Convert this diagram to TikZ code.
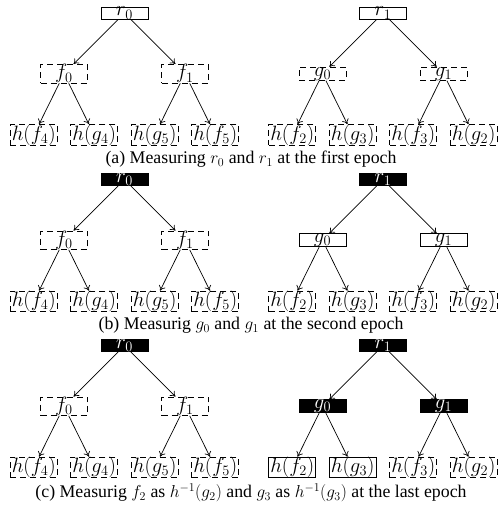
\documentclass[tikz,border=0pt]{standalone}
\usepackage{fontspec}
\setmainfont{Liberation Serif}
\usetikzlibrary{arrows.meta}

\tikzset{
  tbox/.style={draw, inner sep=0pt, minimum width=47pt, line width=0.8pt,
    font=\fontsize{21.5}{24}\selectfont},
  openbox/.style={tbox},
  dashbox/.style={tbox, dash pattern=on 6pt off 4pt},
  blackbox/.style={tbox, fill=black, text=white},
  conn/.style={line width=0.7pt, -{To[length=5pt,width=7pt]}},
  captext/.style={font=\fontsize{17.8}{19}\selectfont, inner sep=0pt}
}

% one binary tree: root, two inner nodes, four leaves
% #1 prefix, #2/#3 root position, #4 root label, #5 root style,
% #6 inner style, #7 inner letter, #8 leaf nodes
\newcommand\btree[8]{%
  \begin{scope}[shift={(#2,#3)}]
    \node[#5] (#1r) at (0,0) {$#4$};
    \node[#6] (#1a) at (-60.5,60.75) {$#7_0$};
    \node[#6] (#1b) at (60.5,60.75) {$#7_1$};
    #8
    \foreach \p/\c in {r/a,r/b,a/1,a/2,b/3,b/4}
      \draw[conn] (#1\p) -- (#1\c);
  \end{scope}}

\begin{document}
\begin{tikzpicture}[x=1pt,y=-1pt]
\useasboundingbox (0,0) rectangle (500,510);

% ---------- (a) first epoch ----------
\btree{A}{124.5}{13}{r_0}{openbox}{dashbox}{f}{%
  \node[dashbox] (A1) at (-90.75,122) {$h(f_4)$};
  \node[dashbox] (A2) at (-30.25,122) {$h(g_4)$};
  \node[dashbox] (A3) at (30.25,122) {$h(g_5)$};
  \node[dashbox] (A4) at (90.75,122) {$h(f_5)$};}
\btree{B}{383}{13}{r_1}{openbox}{dashbox}{g}{%
  \node[dashbox] (B1) at (-90.75,122) {$h(f_2)$};
  \node[dashbox] (B2) at (-30.25,122) {$h(g_3)$};
  \node[dashbox] (B3) at (30.25,122) {$h(f_3)$};
  \node[dashbox] (B4) at (90.75,122) {$h(g_2)$};}
\node[captext] (capa) at (251,159.5) {(a) Measuring $r_0$ and $r_1$ at the first epoch};

% ---------- (b) second epoch ----------
\btree{C}{124.5}{179.5}{r_0}{blackbox}{dashbox}{f}{%
  \node[dashbox] (C1) at (-90.75,122) {$h(f_4)$};
  \node[dashbox] (C2) at (-30.25,122) {$h(g_4)$};
  \node[dashbox] (C3) at (30.25,122) {$h(g_5)$};
  \node[dashbox] (C4) at (90.75,122) {$h(f_5)$};}
\btree{D}{383}{179.5}{r_1}{blackbox}{openbox}{g}{%
  \node[dashbox] (D1) at (-90.75,122) {$h(f_2)$};
  \node[dashbox] (D2) at (-30.25,122) {$h(g_3)$};
  \node[dashbox] (D3) at (30.25,122) {$h(f_3)$};
  \node[dashbox] (D4) at (90.75,122) {$h(g_2)$};}
\node[captext] (capb) at (251,325.5) {(b) Measurig $g_0$ and $g_1$ at the second epoch};

% ---------- (c) last epoch ----------
\btree{E}{124.5}{345.5}{r_0}{blackbox}{dashbox}{f}{%
  \node[dashbox] (E1) at (-90.75,122) {$h(f_4)$};
  \node[dashbox] (E2) at (-30.25,122) {$h(g_4)$};
  \node[dashbox] (E3) at (30.25,122) {$h(g_5)$};
  \node[dashbox] (E4) at (90.75,122) {$h(f_5)$};}
\btree{F}{383}{345.5}{r_1}{blackbox}{blackbox}{g}{%
  \node[openbox] (F1) at (-90.75,122) {$h(f_2)$};
  \node[openbox] (F2) at (-30.25,122) {$h(g_3)$};
  \node[dashbox] (F3) at (30.25,122) {$h(f_3)$};
  \node[dashbox] (F4) at (90.75,122) {$h(g_2)$};}
\node[captext] (capc) at (251,493) {(c) Measurig $f_2$ as $h^{-1}(g_2)$ and $g_3$ as $h^{-1}(g_3)$ at the last epoch};
\end{tikzpicture}
\end{document}
